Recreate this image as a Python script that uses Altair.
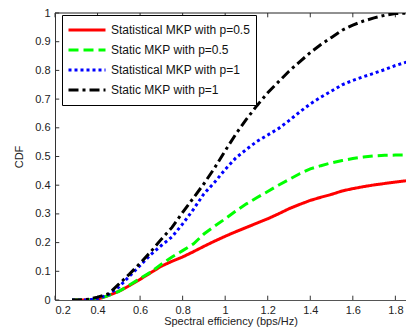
import altair as alt
import pandas as pd

# ---- data ----
x_vals = [0.28, 0.32, 0.36, 0.40, 0.45, 0.50, 0.55, 0.60, 0.65, 0.70, 0.75, 0.80,
          0.85, 0.90, 0.95, 1.00, 1.05, 1.10, 1.15, 1.20, 1.25, 1.30, 1.35, 1.40,
          1.45, 1.50, 1.55, 1.60, 1.65, 1.70, 1.75, 1.80, 1.87]

stat_p05 = [0, 0, 0, 0.003, 0.015, 0.03, 0.05, 0.072, 0.095, 0.118, 0.135, 0.15,
            0.168, 0.187, 0.205, 0.222, 0.238, 0.253, 0.268, 0.283, 0.30, 0.318, 0.333, 0.347,
            0.358, 0.368, 0.38, 0.388, 0.395, 0.401, 0.406, 0.411, 0.417]

static_p05 = [0, 0, 0, 0.003, 0.015, 0.03, 0.052, 0.075, 0.097, 0.125, 0.15, 0.172,
              0.195, 0.23, 0.257, 0.283, 0.31, 0.335, 0.357, 0.378, 0.40, 0.42, 0.44, 0.457,
              0.468, 0.478, 0.486, 0.493, 0.498, 0.502, 0.504, 0.505, 0.506]

stat_p1 = [0, 0, 0, 0.005, 0.018, 0.045, 0.083, 0.12, 0.158, 0.19, 0.22, 0.265,
           0.315, 0.37, 0.41, 0.455, 0.495, 0.525, 0.553, 0.575, 0.597, 0.625, 0.655, 0.683,
           0.707, 0.728, 0.75, 0.765, 0.778, 0.79, 0.803, 0.817, 0.833]

static_p1 = [0, 0, 0.003, 0.01, 0.021, 0.055, 0.09, 0.128, 0.168, 0.212, 0.253, 0.305,
             0.355, 0.405, 0.46, 0.52, 0.578, 0.63, 0.678, 0.722, 0.76, 0.797, 0.83, 0.862,
             0.89, 0.915, 0.94, 0.958, 0.972, 0.983, 0.992, 0.998, 1.0]

series_names = ["Statistical MKP with p=0.5", "Static MKP with p=0.5",
                "Statistical MKP with p=1", "Static MKP with p=1"]
series_values = [stat_p05, static_p05, stat_p1, static_p1]
colors = ["#ff0000", "#00ff00", "#0000ff", "#000000"]
dashes = [[1, 0], [10, 5], [3, 3], [10, 4, 3, 4]]

x_ticks = [0.2, 0.4, 0.6, 0.8, 1.0, 1.2, 1.4, 1.6, 1.8]
y_ticks = [0, 0.1, 0.2, 0.3, 0.4, 0.5, 0.6, 0.7, 0.8, 0.9, 1.0]

rows = []
for name, vals in zip(series_names, series_values):
    for xv, yv in zip(x_vals, vals):
        rows.append({"x": xv, "y": yv, "series": name})
df = pd.DataFrame(rows)

FONT = "Liberation Sans"
x_min, x_max = 0.2, 1.85
xs = alt.Scale(domain=[x_min, x_max], nice=False, zero=False)
ys = alt.Scale(domain=[0, 1], nice=False, zero=False)
x_axis = alt.Axis(values=x_ticks, format="~g", ticks=False, grid=False,
                  domainColor="#555", labelPadding=4, titlePadding=0)
y_axis = alt.Axis(values=y_ticks, format="~g", ticks=False, grid=False,
                  domainColor="#333", labelPadding=5, titlePadding=10)
XT = "Spectral efficiency (bps/Hz)"
YT = "CDF"


def X(f):
    return alt.X(f, type="quantitative", scale=xs, axis=x_axis, title=XT)


def Y(f):
    return alt.Y(f, type="quantitative", scale=ys, axis=y_axis, title=YT)


legend = alt.Legend(title=None, orient="none", legendX=7, legendY=2,
                    symbolType="stroke", symbolSize=1369,
                    symbolStrokeWidth=3, clipHeight=20, rowPadding=0,
                    labelFontSize=12, labelFont=FONT, labelColor="#111",
                    labelLimit=400, labelOffset=4,
                    strokeColor="#000", fillColor="#fff", padding=5)

lines = alt.Chart(df).mark_line(strokeWidth=3, clip=True).encode(
    x=X("x"),
    y=Y("y"),
    color=alt.Color("series:N", scale=alt.Scale(domain=series_names, range=colors),
                    legend=legend),
    strokeDash=alt.StrokeDash("series:N", scale=alt.Scale(domain=series_names, range=dashes),
                              legend=legend),
    order="x:Q",
)

# inside tick marks (MATLAB style)
tick_len_y = 0.015
tick_len_x = 0.02
xt_df = pd.DataFrame({"t": x_ticks, "b0": [0] * len(x_ticks), "b1": [tick_len_y] * len(x_ticks),
                      "u0": [1] * len(x_ticks), "u1": [1 - tick_len_y] * len(x_ticks)})
yt_df = pd.DataFrame({"t": y_ticks, "l0": [x_min] * len(y_ticks),
                      "l1": [x_min + tick_len_x] * len(y_ticks)})

bottom_ticks = alt.Chart(xt_df).mark_rule(color="#333", strokeWidth=1).encode(
    x=X("t"), y=Y("b0"), y2="b1")
top_ticks = alt.Chart(xt_df).mark_rule(color="#333", strokeWidth=1).encode(
    x=X("t"), y=Y("u0"), y2="u1")
left_ticks = alt.Chart(yt_df).mark_rule(color="#333", strokeWidth=1).encode(
    y=Y("t"), x=X("l0"), x2="l1")

top_df = pd.DataFrame({"a": [x_min], "b": [x_max], "c": [1]})
top_border = alt.Chart(top_df).mark_rule(color="#222", strokeWidth=1).encode(
    x=X("a"), x2="b", y=Y("c"))

chart = alt.layer(bottom_ticks, top_ticks, left_ticks, top_border, lines).properties(
    width=351, height=287,
    padding={"left": 47, "top": 5, "right": 0, "bottom": 28},
    autosize=alt.AutoSizeParams(type="none"),
    background="#ffffff",
).configure_view(stroke=None).configure_axis(
    labelFont=FONT, titleFont=FONT, labelFontSize=11, titleFontSize=11,
    labelColor="#222", titleColor="#222", titleFontWeight="normal",
)

chart.save("out.html", embed_options={"renderer": "svg", "actions": False})
